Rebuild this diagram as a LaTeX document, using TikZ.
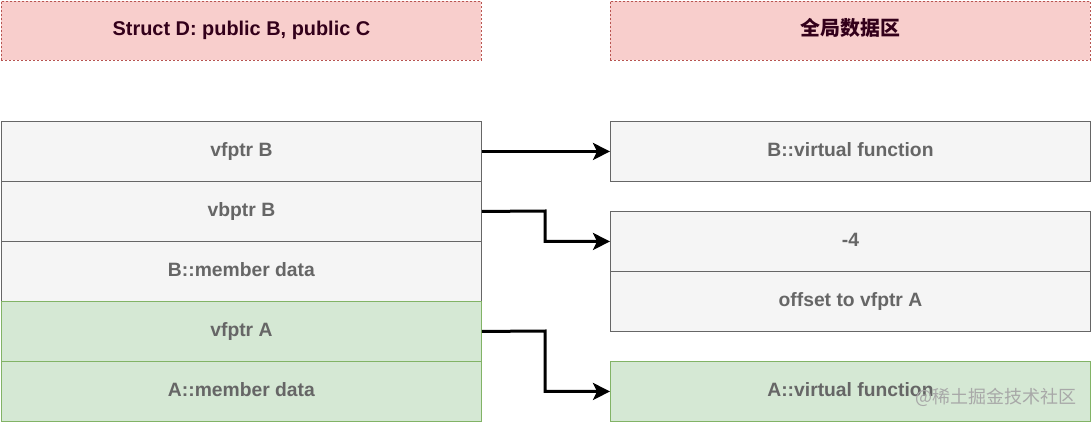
\documentclass[tikz,border=0pt]{standalone}
\usepackage{fontspec}
\setmainfont{Liberation Sans}
\newfontfamily\cjk{Noto Sans CJK SC}
\usetikzlibrary{arrows.meta}
\definecolor{grayfill}{HTML}{F5F5F5}
\definecolor{graystroke}{HTML}{666666}
\definecolor{greenfill}{HTML}{D5E8D4}
\definecolor{greenstroke}{HTML}{82B366}
\definecolor{redfill}{HTML}{F8CECC}
\definecolor{redstroke}{HTML}{B85450}
\definecolor{headtext}{HTML}{33001A}
\definecolor{wmark}{HTML}{A8A8A8}
\tikzset{
  cell/.style={draw=graystroke, fill=grayfill, text=graystroke, line width=0.9pt,
    minimum width=480pt, minimum height=60pt, inner sep=0pt, anchor=north west,
    text height=14pt, text depth=4.2pt,
    font=\fontsize{19.3}{22}\selectfont\bfseries},
  gcell/.style={cell, draw=greenstroke, fill=greenfill},
  head/.style={cell, draw=redstroke, fill=redfill, text=headtext, dashed, dash pattern=on 2pt off 2pt,
    minimum height=59pt, font=\fontsize{19.9}{22}\selectfont\bfseries},
  link/.style={line width=3pt, line join=miter, -{Stealth[length=17pt,width=17pt,inset=4pt]}},
}
\begin{document}
\begin{tikzpicture}[x=1pt,y=-1pt]
\useasboundingbox (0,0) rectangle (1091,422);
\node[head] (hl) at (1,1) {Struct D: public B, public C};
\node[head] (hr) at (610,1) {\cjk\bfseries 全局数据区};
\node[cell] (vfB) at (1,121) {vfptr B};
\node[cell] (vbB) at (1,181) {vbptr B};
\node[cell] (mB) at (1,241) {B::member data};
\node[gcell] (vfA) at (1,301) {vfptr A};
\node[gcell] (mA) at (1,361) {A::member data};
\node[cell] (BV) at (610,121) {B::virtual function};
\node[cell] (m4) at (610,211) {-4};
\node[cell] (off) at (610,271) {offset to vfptr A};
\node[gcell] (AV) at (610,361) {A::virtual function};
\node[font=\cjk\fontsize{18}{20}\selectfont, text=wmark, anchor=east, inner sep=0pt] (wm) at (1077,397) {@稀土掘金技术社区};
\draw[link] (vfB.east) -- (BV.west);
\draw[link] (vbB.east) -- (545,211) |- (m4.west);
\draw[link] (vfA.east) -- (545,331) |- (AV.west);
\end{tikzpicture}
\end{document}
